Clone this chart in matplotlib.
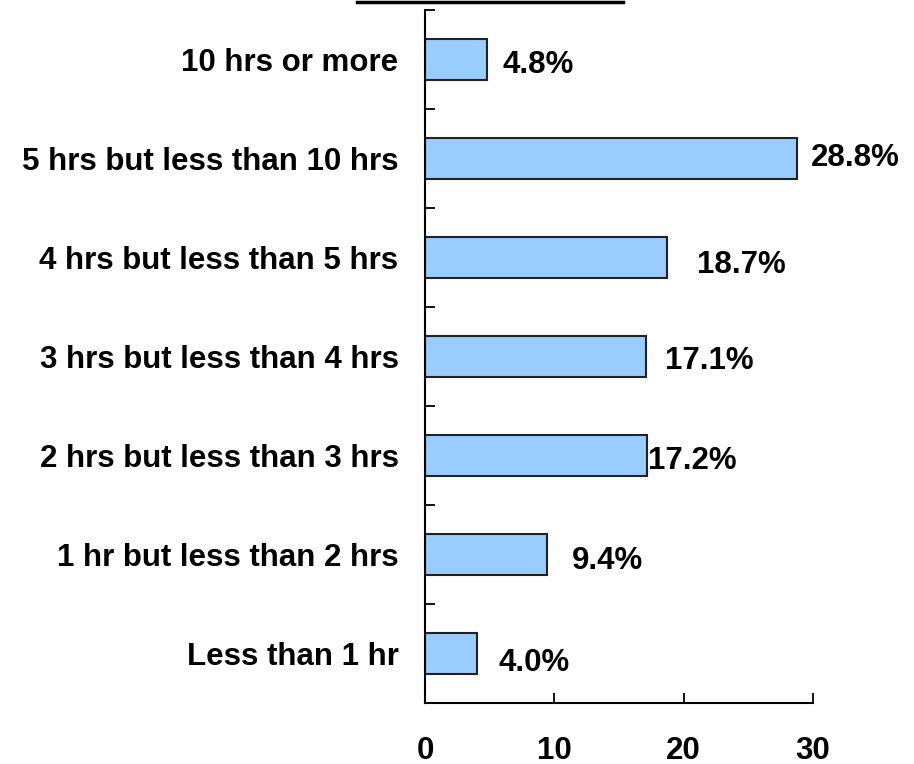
import matplotlib
matplotlib.use("Agg")
import matplotlib.pyplot as plt
from matplotlib.lines import Line2D

categories = ["10 hrs or more", "5 hrs but less than 10 hrs", "4 hrs but less than 5 hrs",
              "3 hrs but less than 4 hrs", "2 hrs but less than 3 hrs",
              "1 hr but less than 2 hrs", "Less than 1 hr"]
values = [4.8, 28.8, 18.7, 17.1, 17.2, 9.4, 4.0]
value_labels = ["4.8%", "28.8%", "18.7%", "17.1%", "17.2%", "9.4%", "4.0%"]
xticks = [0, 10, 20, 30]
label_offsets_px = [15, 13, 30, 19, 1, 25, 22]
label_drop_px = [2, -4, 4, 1, 2, 3, 6]

plt.rcParams['font.family'] = ['Liberation Sans', 'DejaVu Sans']
plt.rcParams['font.weight'] = 'bold'

FS = 22.5
W, H = 914, 764
fig = plt.figure(figsize=(W / 100, H / 100), dpi=100)
ax = fig.add_axes([425 / W, 1 - 703 / H, (813 - 425) / W, (703 - 10) / H])

n = len(categories)
ypos = [n - 1 - i for i in range(n)]
ax.barh(ypos, values, height=0.41, color="#99CCFF", edgecolor="#222222", linewidth=1.5)
ax.set_xlim(0, 30)
ax.set_ylim(-0.5, n - 0.5)

ax.set_yticks(ypos)
ax.set_yticklabels(categories, fontsize=FS, fontweight='bold')
ax.set_yticks([k - 0.5 for k in range(n + 1)], minor=True)
ax.tick_params(axis='y', which='major', length=0, pad=19)
ax.tick_params(axis='y', which='minor', direction='in', length=7, width=1.3)
ax.set_xticks(xticks)
ax.set_xticklabels([str(t) for t in xticks], fontsize=FS, fontweight='bold')
ax.tick_params(axis='x', which='major', direction='in', length=7, width=1.3, pad=23.5)

for s in ['top', 'right']:
    ax.spines[s].set_visible(False)
for s in ['left', 'bottom']:
    ax.spines[s].set_linewidth(1.5)

for y, v, lab, off, dr in zip(ypos, values, value_labels, label_offsets_px, label_drop_px):
    ax.annotate(lab, xy=(v, y), xytext=(off * 0.72, -dr * 0.72), textcoords='offset points',
                ha='left', va='center_baseline', fontsize=FS, fontweight='bold')

fig.add_artist(Line2D([357 / W, 623 / W], [1 - 1.5 / H, 1 - 1.5 / H], color='black', linewidth=2.5,
                      transform=fig.transFigure))

fig.savefig("out.png", dpi=100)
